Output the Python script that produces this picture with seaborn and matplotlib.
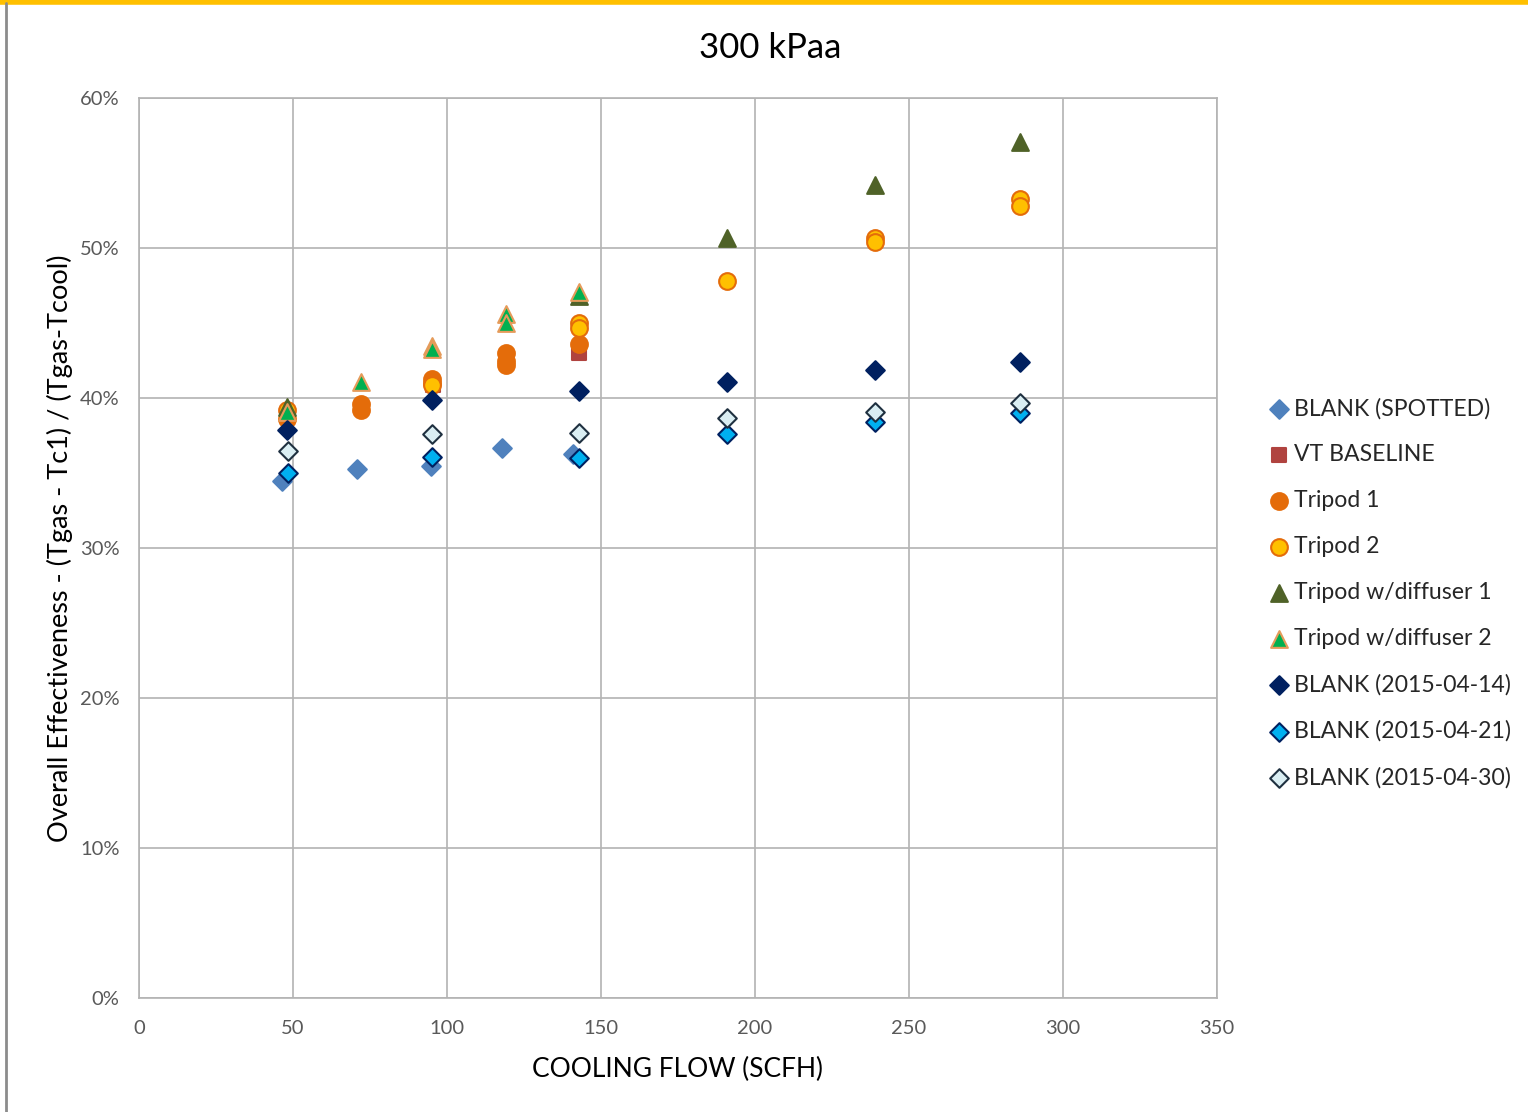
import numpy as np
import pandas as pd
import matplotlib
matplotlib.use("Agg")
import matplotlib.pyplot as plt
from matplotlib.ticker import PercentFormatter, MultipleLocator
import seaborn as sns

# Дані (x = SCFH, y = %)
spotted_x = [46.4, 70.8, 94.8, 117.9, 141.0]
spotted_y = [34.5, 35.3, 35.5, 36.7, 36.3]

vt_x = [95.5, 143]
vt_y = [40.9, 43.0]

tripod1_x = [48, 72, 72, 95, 95, 119, 119, 119, 143]
tripod1_y = [38.6, 39.6, 39.2, 41.3, 41.0, 43.0, 42.5, 42.2, 43.6]

tripod2_x = [48, 95, 143, 143, 191, 239, 239, 286, 286]
tripod2_y = [39.2, 40.9, 45.0, 44.7, 47.8, 50.7, 50.4, 53.3, 52.8]

diff1_x = [48, 143, 191, 239, 286]
diff1_y = [39.4, 46.8, 50.7, 54.2, 57.1]

diff2_x = [48, 72, 95, 95, 119, 119, 143]
diff2_y = [39.1, 41.1, 43.5, 43.3, 45.6, 45.0, 47.1]

b0414_x = [48, 95, 143, 191, 239, 286]
b0414_y = [37.9, 39.9, 40.5, 41.1, 41.9, 42.4]

b0421_x = [48.5, 95, 143, 191, 239, 286]
b0421_y = [35.0, 36.1, 36.0, 37.6, 38.4, 39.0]

b0430_x = [48.5, 95, 143, 191, 239, 286]
b0430_y = [36.5, 37.6, 37.7, 38.7, 39.1, 39.7]

series = [
    ("BLANK (SPOTTED)", spotted_x, spotted_y, "D", "#4F81BD", "#4F81BD", 90),
    ("VT BASELINE", vt_x, vt_y, "s", "#B0433F", "#B0433F", 115),
    ("Tripod 1", tripod1_x, tripod1_y, "o", "#E46C0A", "#E46C0A", 145),
    ("Tripod 2", tripod2_x, tripod2_y, "o", "#FFC000", "#E46C0A", 145),
    ("Tripod w/diffuser 1", diff1_x, diff1_y, "^", "#4F6228", "#4F6228", 145),
    ("Tripod w/diffuser 2", diff2_x, diff2_y, "^", "#00B050", "#E59B5A", 145),
    ("BLANK (2015-04-14)", b0414_x, b0414_y, "D", "#002060", "#002060", 90),
    ("BLANK (2015-04-21)", b0421_x, b0421_y, "D", "#00B0F0", "#002060", 90),
    ("BLANK (2015-04-30)", b0430_x, b0430_y, "D", "#DAEEF3", "#1F3040", 90),
]

sns.set_style("white")
plt.rcParams["font.family"] = ["Lato", "DejaVu Sans"]

fig = plt.figure(figsize=(15.28, 11.12), dpi=100)
ax = fig.add_axes([139 / 1528, 1 - 998 / 1112, (1217 - 139) / 1528, 900 / 1112])

for name, xs, ys, mk, fc, ec, size in series:
    df = pd.DataFrame({"x": xs, "y": ys})
    sns.scatterplot(data=df, x="x", y="y", marker=mk, color=fc, edgecolor=ec,
                    linewidth=1.5, s=size, label=name, ax=ax, zorder=3)

ax.set_xlim(0, 350)
ax.set_ylim(0, 60)
ax.xaxis.set_major_locator(MultipleLocator(50))
ax.yaxis.set_major_locator(MultipleLocator(10))
ax.yaxis.set_major_formatter(PercentFormatter(100, decimals=0))
ax.grid(True, color="#B3B3B3", linewidth=1.2)
ax.set_axisbelow(True)
for sp in ax.spines.values():
    sp.set_color("#B3B3B3")
    sp.set_linewidth(1.2)
ax.tick_params(axis="both", colors="#B3B3B3", length=6, width=1.2,
               labelcolor="#595959", labelsize=14.5, direction="out")
ax.tick_params(axis="x", pad=10)
ax.tick_params(axis="y", pad=8)

fig.text(770 / 1528, 1 - 48 / 1112, "300 kPaa", fontsize=25, ha="center", va="center",
         color="black")
ax.set_xlabel("COOLING FLOW (SCFH)", fontsize=19, labelpad=14, color="black")
ax.set_ylabel("Overall Effectiveness - (Tgas - Tc1) / (Tgas-Tcool)", fontsize=19.5,
              labelpad=5, color="black")

leg = ax.legend(loc="center left", bbox_to_anchor=(1269 / 1528, 1 - 593 / 1112),
                bbox_transform=fig.transFigure, frameon=False, fontsize=16.6,
                handletextpad=0.2, labelspacing=1.08, handlelength=0.9,
                borderpad=0.0, borderaxespad=0.0)

# рамка області діаграми
fig.add_artist(plt.Line2D([0, 1], [0.9985, 0.9985], color="#FFC000", linewidth=4,
                          transform=fig.transFigure))
fig.add_artist(plt.Line2D([6 / 1528, 6 / 1528], [0, 0.997], color="#8C8C8C", linewidth=2,
                          transform=fig.transFigure))

fig.savefig("out.png", dpi=100)
